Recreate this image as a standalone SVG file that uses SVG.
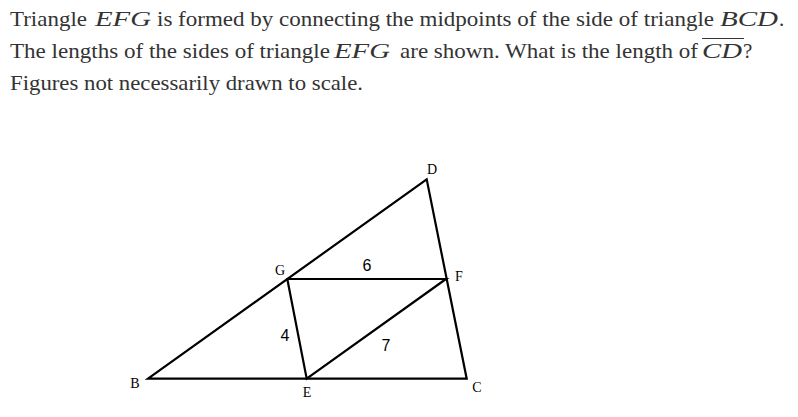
<svg xmlns="http://www.w3.org/2000/svg" width="798" height="417" viewBox="0 0 798 417">
<style>
.t{font-family:"Liberation Serif","DejaVu Serif",serif;font-size:21px;fill:#333}
.m{font-family:"Liberation Serif","DejaVu Serif",serif;font-size:22px;font-style:italic;fill:#333}
.lbl{font-family:"Liberation Serif","DejaVu Serif",serif;font-size:14px;fill:#000}
.num{font-family:"Liberation Sans","DejaVu Sans",sans-serif;font-size:16px;fill:#000}
.seg{stroke:#000;stroke-width:2.2;fill:none;stroke-linecap:round}
</style>
<rect width="798" height="417" fill="#fff"/>
<g id="question">
<text class="t" x="10" y="26" textLength="77" lengthAdjust="spacingAndGlyphs">Triangle</text>
<text class="m" x="95" y="26" textLength="56" lengthAdjust="spacingAndGlyphs">EFG</text>
<text class="t" x="157" y="26" textLength="557" lengthAdjust="spacingAndGlyphs">is formed by connecting the midpoints of the side of triangle</text>
<text class="m" x="720" y="26" textLength="58" lengthAdjust="spacingAndGlyphs">BCD</text>
<text class="t" x="779" y="26">.</text>
<text class="t" x="10" y="58" textLength="320" lengthAdjust="spacingAndGlyphs">The lengths of the sides of triangle</text>
<text class="m" x="334" y="58" textLength="56" lengthAdjust="spacingAndGlyphs">EFG</text>
<text class="t" x="400" y="58" textLength="298" lengthAdjust="spacingAndGlyphs">are shown. What is the length of</text>
<text class="m" x="702" y="58" textLength="40" lengthAdjust="spacingAndGlyphs">CD</text>
<line x1="702" y1="38.5" x2="744" y2="38.5" stroke="#333" stroke-width="1.2"/>
<text class="t" x="743" y="58">?</text>
<text class="t" x="10" y="90" textLength="353" lengthAdjust="spacingAndGlyphs">Figures not necessarily drawn to scale.</text>
</g>
<g id="connectors">
<polygon class="seg" points="148,378.7 466.7,378.7 426.7,179.3"/>
<polygon class="seg" points="287.3,279 446,279 306.7,378.7"/>
</g>
<g id="node-B"><text class="lbl" x="135" y="388" text-anchor="middle">B</text></g>
<g id="node-C"><text class="lbl" x="477" y="392" text-anchor="middle">C</text></g>
<g id="node-D"><text class="lbl" x="432" y="174" text-anchor="middle">D</text></g>
<g id="node-E"><text class="lbl" x="307" y="397" text-anchor="middle">E</text></g>
<g id="node-F"><text class="lbl" x="459" y="281" text-anchor="middle">F</text></g>
<g id="node-G"><text class="lbl" x="280" y="275" text-anchor="middle">G</text></g>
<g id="labels">
<text class="num" x="367" y="271" text-anchor="middle">6</text>
<text class="num" x="285" y="341" text-anchor="middle">4</text>
<text class="num" x="386" y="351" text-anchor="middle">7</text>
</g>
</svg>
